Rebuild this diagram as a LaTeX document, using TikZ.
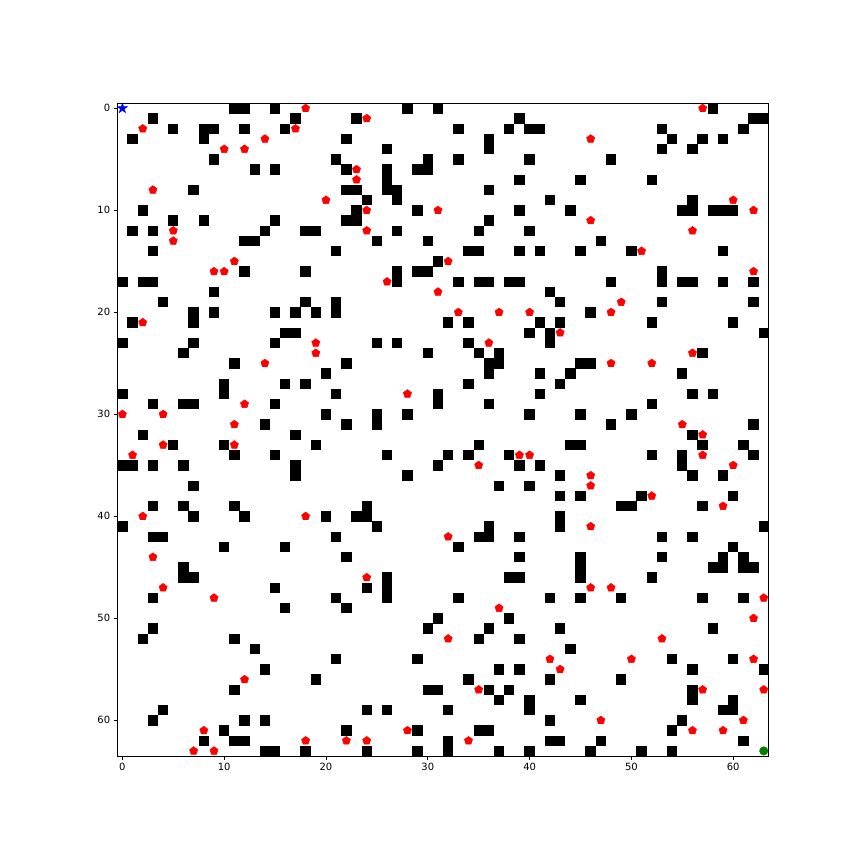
\documentclass[tikz,border=0pt]{standalone}
\usepackage{fontspec}
\setmainfont{DejaVu Sans}
\usetikzlibrary{shapes.geometric}
\definecolor{mplred}{HTML}{FF0000}
\definecolor{mplblue}{HTML}{0000FF}
\definecolor{mplgreen}{HTML}{008000}
\tikzset{
  cellfill/.style={fill=black},
  redmark/.style={regular polygon, regular polygon sides=5, minimum size=8.6bp, inner sep=0pt, fill=mplred, draw=mplred, line width=0.4bp},
  startmark/.style={star, star points=5, star point ratio=2.618, minimum size=11bp, inner sep=0pt, fill=mplblue, draw=mplblue, line width=0.3bp},
  goalmark/.style={circle, minimum size=8.6bp, inner sep=0pt, fill=mplgreen, draw=mplgreen, line width=0.3bp},
  spine/.style={line width=0.8bp, draw=black},
  ticklab/.style={inner sep=0pt, font=\fontsize{10}{12}\selectfont}
}
\newcommand\cellrow[2]{\foreach \cc in {#2}{\fill[cellfill] (\cc-0.01,#1-0.01) rectangle (\cc+1.01,#1+1.01);}}
\newcommand\markrow[2]{\foreach \cc in {#2}{\node[redmark] (m-\cc-#1) at (\cc+0.5,#1+0.5) {};}}
\begin{document}
\begin{tikzpicture}[x=1bp,y=-1bp]
\useasboundingbox (0,0) rectangle (864,864);
\fill[white] (0,0) rectangle (864,864);
\begin{scope}[xshift=117.3bp,yshift=-103.2bp,x=10.18bp,y=-10.2bp]
  % obstacle cells: row, columns
  \cellrow{0}{11,12,15,28,31,58}
  \cellrow{1}{3,17,23,39,62,63}
  \cellrow{2}{5,8,9,12,16,33,38,40,41,53,61}
  \cellrow{3}{1,8,22,36,54,57,59}
  \cellrow{4}{26,36,53,56}
  \cellrow{5}{9,21,30,33,40,48}
  \cellrow{6}{13,15,22,26,29,30}
  \cellrow{7}{26,39,45,52}
  \cellrow{8}{7,22,23,26,27,36}
  \cellrow{9}{24,27,42,56}
  \cellrow{10}{2,23,29,39,44,55,56,58,59,60}
  \cellrow{11}{5,8,15,22,23,36}
  \cellrow{12}{1,3,14,18,19,27,35,40}
  \cellrow{13}{12,13,25,30,47}
  \cellrow{14}{3,21,34,35,39,41,45,50,59}
  \cellrow{15}{31}
  \cellrow{16}{12,18,27,29,30,53}
  \cellrow{17}{0,2,3,27,33,35,36,38,39,48,53,55,56,59,62}
  \cellrow{18}{9,42}
  \cellrow{19}{4,18,21,43,53,62}
  \cellrow{20}{7,9,15,17,19,21,46}
  \cellrow{21}{1,7,32,34,41,43,52,60}
  \cellrow{22}{16,17,40,42,63}
  \cellrow{23}{0,7,15,25,27,34,42}
  \cellrow{24}{6,30,35,37,57}
  \cellrow{25}{11,22,36,37,45,46}
  \cellrow{26}{20,36,41,44,55}
  \cellrow{27}{10,16,18,34,43}
  \cellrow{28}{0,10,21,31,41,56,58}
  \cellrow{29}{3,6,7,15,31,36,52}
  \cellrow{30}{20,25,28,40,45,50}
  \cellrow{31}{14,22,25,48,62}
  \cellrow{32}{2,17,56}
  \cellrow{33}{5,10,19,35,44,45,57,61}
  \cellrow{34}{11,15,26,32,34,38,52,55,62}
  \cellrow{35}{0,1,3,6,17,31,39,41,55}
  \cellrow{36}{17,28,43,56,59}
  \cellrow{37}{7,37,40}
  \cellrow{38}{43,45,51,60}
  \cellrow{39}{3,6,11,24,49,50,57}
  \cellrow{40}{7,12,20,23,24,43}
  \cellrow{41}{0,25,36,43,63}
  \cellrow{42}{3,4,21,35,36,39,53,56}
  \cellrow{43}{10,16,33,60}
  \cellrow{44}{22,39,45,53,59,61}
  \cellrow{45}{6,45,58,59,61,62}
  \cellrow{46}{6,7,26,38,39,45,52}
  \cellrow{47}{15,24,26}
  \cellrow{48}{3,21,26,33,42,45,49,57,61}
  \cellrow{49}{16,22}
  \cellrow{50}{31,38}
  \cellrow{51}{3,30,36,43,58}
  \cellrow{52}{2,11,35,39}
  \cellrow{53}{13,44}
  \cellrow{54}{21,29,54,60}
  \cellrow{55}{14,37,39,56,63}
  \cellrow{56}{19,34,42,49}
  \cellrow{57}{11,30,31,36,38,56}
  \cellrow{58}{37,40,45,56,60}
  \cellrow{59}{4,24,26,32,40,59,60}
  \cellrow{60}{3,12,14,42,55}
  \cellrow{61}{10,22,29,35,36,54}
  \cellrow{62}{8,11,12,32,42,43,47,61}
  \cellrow{63}{14,15,18,24,29,32,37,40,46,51,54}
  % red pentagon markers: row, columns
  \markrow{0}{18,57}
  \markrow{1}{24}
  \markrow{2}{2,17}
  \markrow{3}{14,46}
  \markrow{4}{10,12}
  \markrow{6}{23}
  \markrow{7}{23}
  \markrow{8}{3}
  \markrow{9}{20,60}
  \markrow{10}{24,31,62}
  \markrow{11}{46}
  \markrow{12}{5,24,56}
  \markrow{13}{5}
  \markrow{14}{51}
  \markrow{15}{11,32}
  \markrow{16}{9,10,62}
  \markrow{17}{26}
  \markrow{18}{31}
  \markrow{19}{49}
  \markrow{20}{33,37,40,48}
  \markrow{21}{2}
  \markrow{22}{43}
  \markrow{23}{19,36}
  \markrow{24}{19,56}
  \markrow{25}{14,48,52}
  \markrow{28}{28}
  \markrow{29}{12}
  \markrow{30}{0,4}
  \markrow{31}{11,55}
  \markrow{32}{57}
  \markrow{33}{4,11}
  \markrow{34}{1,39,40,57}
  \markrow{35}{35,60}
  \markrow{36}{46}
  \markrow{37}{46}
  \markrow{38}{52}
  \markrow{39}{59}
  \markrow{40}{2,18}
  \markrow{41}{46}
  \markrow{42}{32}
  \markrow{44}{3}
  \markrow{46}{24}
  \markrow{47}{4,46,48}
  \markrow{48}{9,63}
  \markrow{49}{37}
  \markrow{50}{62}
  \markrow{52}{32,53}
  \markrow{54}{42,50,62}
  \markrow{55}{43}
  \markrow{56}{12}
  \markrow{57}{35,57,63}
  \markrow{60}{47,61}
  \markrow{61}{8,28,56,59}
  \markrow{62}{18,22,24,34}
  \markrow{63}{7,9}
  % start and goal
  \node[startmark] (start) at (0.5,0.5) {};
  \node[goalmark] (goal) at (63.5,63.5) {};
  % axes frame
  \draw[spine] (0,0) rectangle (64,64);
  % ticks and labels
  \foreach \v in {0,10,20,30,40,50,60} {
    \draw[spine] (\v+0.5,64) -- ++(0,-3.5bp);
    \node[ticklab, anchor=north] (xl\v) at ([yshift=-7bp]\v+0.5,64) {\v};
    \draw[spine] (0,\v+0.5) -- ++(-3.5bp,0);
    \node[ticklab, anchor=east] (yl\v) at ([xshift=-7bp]0,\v+0.5) {\v};
  }
\end{scope}
\end{tikzpicture}
\end{document}
